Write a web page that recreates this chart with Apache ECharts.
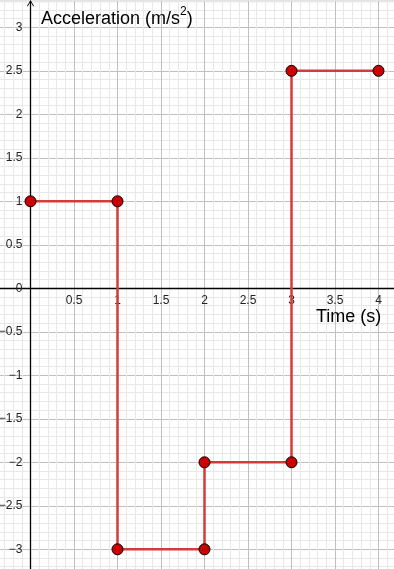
<!DOCTYPE html>
<html><head><meta charset="utf-8">
<script src="https://cdn.jsdelivr.net/npm/echarts@6/dist/echarts.min.js"></script>
<style>html,body{margin:0;padding:0;background:#fff}#c{width:394px;height:569px}</style>
</head><body><div id="c"></div>
<script>
// Data
const pointTimes = [0, 1, 1, 2, 2, 3, 3, 4];
const pointAccels = [1, 1, -3, -3, -2, -2, 2.5, 2.5];
const xTickValues = [0.5, 1, 1.5, 2, 2.5, 3, 3.5, 4];
const xTickLabels = ['0.5', '1', '1.5', '2', '2.5', '3', '3.5', '4'];
const yTickValues = [-3, -2.5, -2, -1.5, -1, -0.5, 0, 0.5, 1, 1.5, 2, 2.5, 3];
const yTickLabels = ['\u22123', '\u22122.5', '\u22122', '\u22121.5', '\u22121', '\u22120.5', '0', '0.5', '1', '1.5', '2', '2.5', '3'];
const xTitle = 'Time (s)';
const yTitleMain = 'Acceleration (m/s';
const yTitleSup = '2';

function labelFor(values, labels) {
  return function (v) {
    const i = values.findIndex(t => Math.abs(t - v) < 1e-6);
    return i >= 0 ? labels[i] : '';
  };
}
const MAJOR = '#c0c0c0', MINOR = '#e8e8e8';
const gridColors = [MAJOR, MINOR, MINOR, MINOR, MINOR];

// layout: 87 px per unit, origin at (30.5, 288.3)
const X_MIN = -0.5, X_MAX = 4.5, Y_MIN = -3.5, Y_MAX = 3.3;
const PX = 87, OX = 30.5, OY = 288.3;
const gLeft = OX + X_MIN * PX, gRight = 394 - (OX + X_MAX * PX);
const gTop = OY - Y_MAX * PX, gBottom = 569 - (OY - Y_MIN * PX);

const chart = echarts.init(document.getElementById('c'), null, {renderer: 'canvas'});
chart.setOption({
  animation: false,
  backgroundColor: '#fff',
  grid: {left: gLeft, right: gRight, top: gTop, bottom: gBottom, containLabel: false,
         outerBoundsMode: 'none',
         show: true, borderColor: '#dcdcdc', borderWidth: 2, backgroundColor: 'transparent'},
  xAxis: {
    type: 'value', min: X_MIN, max: X_MAX, interval: 0.1, position: 'bottom',
    offset: -(OY - Y_MIN * PX - OY),
    axisLine: {onZero: false, lineStyle: {color: '#000', width: 1.3}},
    axisTick: {show: false},
    axisLabel: {formatter: labelFor(xTickValues, xTickLabels), margin: 6,
                color: '#222', fontSize: 12, fontFamily: 'Liberation Sans'},
    splitLine: {show: true, lineStyle: {color: gridColors, width: 1}}
  },
  yAxis: {
    type: 'value', min: Y_MIN, max: Y_MAX, interval: 0.1, position: 'left',
    offset: -(OX - gLeft),
    axisLine: {onZero: false, lineStyle: {color: '#000', width: 1.3},
               symbol: ['none', 'path://M0,8 L5,0 L10,8 L8.6,8 L5,2.2 L1.4,8 Z'],
               symbolSize: [9, 6], symbolOffset: [0, -2]},
    axisTick: {show: false},
    axisLabel: {formatter: labelFor(yTickValues, yTickLabels), margin: 8,
                color: '#222', fontSize: 12, fontFamily: 'Liberation Sans'},
    splitLine: {show: true, lineStyle: {color: gridColors, width: 1}}
  },
  graphic: [
    {type: 'text', left: 41, top: 6, z: 10,
     style: {text: '{a|' + yTitleMain + '}{s|' + yTitleSup + '}{a|)}',
             rich: {a: {fontSize: 18, fontFamily: 'Liberation Sans', fill: '#000', lineHeight: 22, verticalAlign: 'bottom'},
                    s: {fontSize: 12, fontFamily: 'Liberation Sans', fill: '#000', lineHeight: 22, verticalAlign: 'top'}}}},
    {type: 'text', left: 316, top: 308, z: 10,
     style: {text: xTitle, fontSize: 18, fontFamily: 'Liberation Sans', fill: '#000'}}
  ],
  series: [{
    type: 'line',
    data: pointTimes.map((t, i) => [t, pointAccels[i]]),
    lineStyle: {color: '#d43c3c', width: 2.5},
    symbol: 'circle', symbolSize: 11,
    itemStyle: {color: '#cc0000', borderColor: '#000', borderWidth: 1},
    z: 5
  }]
});
</script></body></html>
